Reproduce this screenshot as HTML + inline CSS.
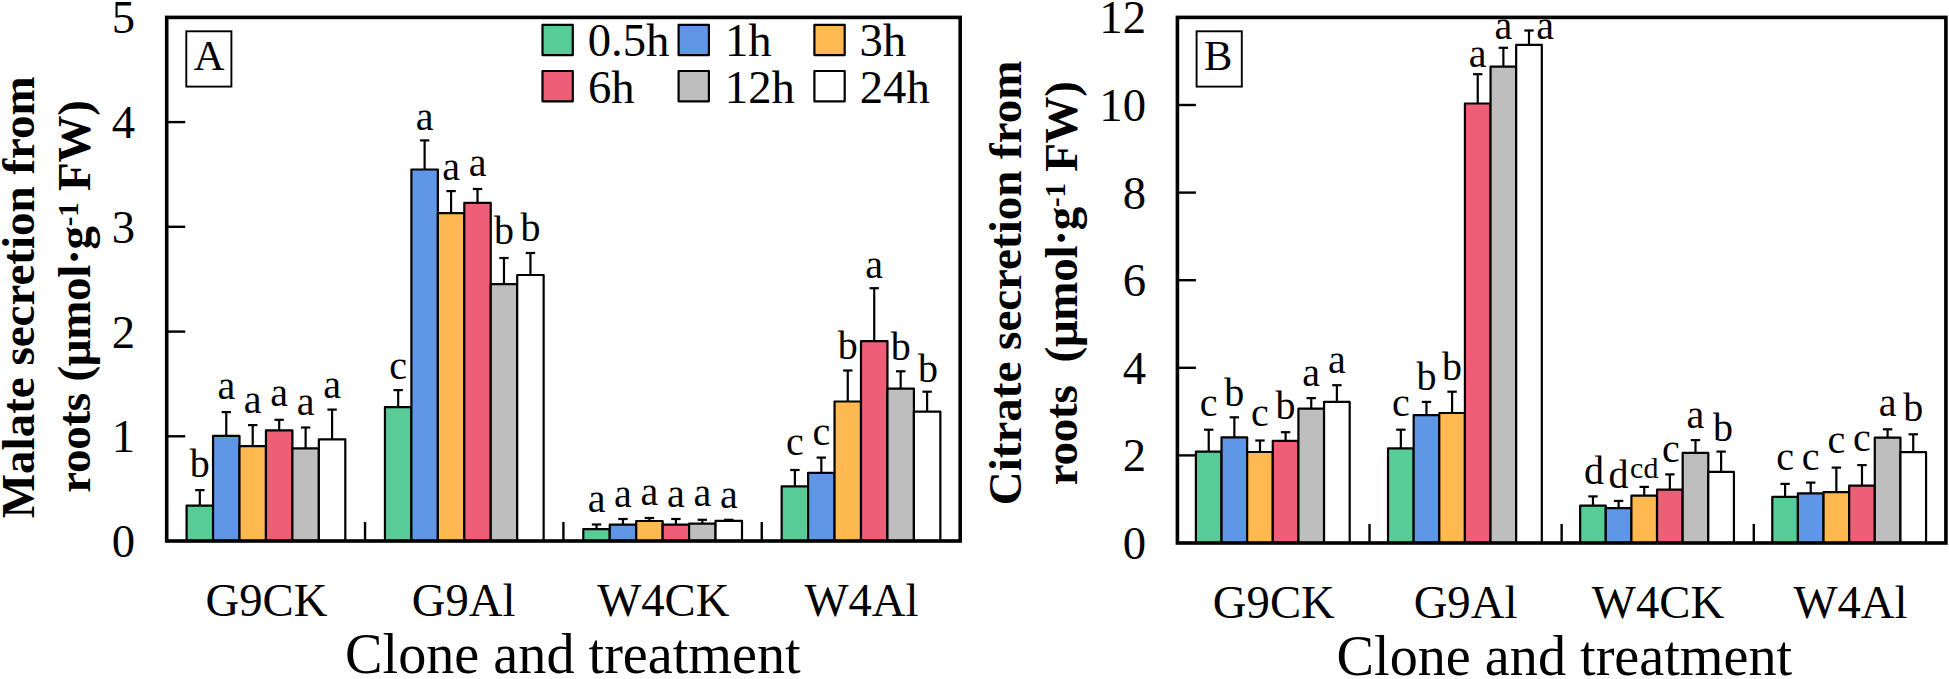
<!DOCTYPE html>
<html lang="en"><head><meta charset="utf-8"><title>Malate and citrate secretion from roots</title>
<style>
html,body{margin:0;padding:0;background:#fff}
body{width:1949px;height:679px;overflow:hidden}
svg{display:block}
text{font-family:"Liberation Serif", serif;fill:#000}
.b{stroke:#000;stroke-width:2.2;stroke-linejoin:round}
.e{stroke:#000;stroke-width:2.2}
.t{stroke:#000;stroke-width:2.4}
</style></head><body>
<svg width="1949" height="679" viewBox="0 0 1949 679">
<rect width="1949" height="679" fill="#fff"/>
<g id="chartA">
<line x1="199.82" y1="505.6" x2="199.82" y2="490.1" class="e"/>
<line x1="195.12" y1="490.1" x2="204.52" y2="490.1" class="e"/>
<rect x="186.6" y="505.6" width="26.45" height="35.4" fill="#58CC96" class="b"/>
<text x="199.82" y="477" font-size="40" text-anchor="middle">b</text>
<line x1="226.27" y1="435.9" x2="226.27" y2="412.1" class="e"/>
<line x1="221.57" y1="412.1" x2="230.97" y2="412.1" class="e"/>
<rect x="213.05" y="435.9" width="26.45" height="105.1" fill="#6096E6" class="b"/>
<text x="226.27" y="398.8" font-size="40" text-anchor="middle">a</text>
<line x1="252.72" y1="446.1" x2="252.72" y2="425.1" class="e"/>
<line x1="248.03" y1="425.1" x2="257.43" y2="425.1" class="e"/>
<rect x="239.5" y="446.1" width="26.45" height="94.9" fill="#FFB950" class="b"/>
<text x="252.72" y="413.3" font-size="40" text-anchor="middle">a</text>
<line x1="279.18" y1="430.3" x2="279.18" y2="419.8" class="e"/>
<line x1="274.48" y1="419.8" x2="283.88" y2="419.8" class="e"/>
<rect x="265.95" y="430.3" width="26.45" height="110.7" fill="#EE5F77" class="b"/>
<text x="279.18" y="405.9" font-size="40" text-anchor="middle">a</text>
<line x1="305.62" y1="448.3" x2="305.62" y2="427.5" class="e"/>
<line x1="300.93" y1="427.5" x2="310.32" y2="427.5" class="e"/>
<rect x="292.4" y="448.3" width="26.45" height="92.7" fill="#BEBEBE" class="b"/>
<text x="305.62" y="415.2" font-size="40" text-anchor="middle">a</text>
<line x1="332.08" y1="439.3" x2="332.08" y2="409.6" class="e"/>
<line x1="327.38" y1="409.6" x2="336.78" y2="409.6" class="e"/>
<rect x="318.85" y="439.3" width="26.45" height="101.7" fill="#FFFFFF" class="b"/>
<text x="332.08" y="397.8" font-size="40" text-anchor="middle">a</text>
<line x1="398.18" y1="407.1" x2="398.18" y2="390.1" class="e"/>
<line x1="393.48" y1="390.1" x2="402.88" y2="390.1" class="e"/>
<rect x="384.95" y="407.1" width="26.45" height="133.9" fill="#58CC96" class="b"/>
<text x="398.18" y="378.7" font-size="40" text-anchor="middle">c</text>
<line x1="424.62" y1="169.5" x2="424.62" y2="140.4" class="e"/>
<line x1="419.93" y1="140.4" x2="429.32" y2="140.4" class="e"/>
<rect x="411.4" y="169.5" width="26.45" height="371.5" fill="#6096E6" class="b"/>
<text x="424.62" y="129.6" font-size="40" text-anchor="middle">a</text>
<line x1="451.07" y1="213.1" x2="451.07" y2="191.1" class="e"/>
<line x1="446.38" y1="191.1" x2="455.77" y2="191.1" class="e"/>
<rect x="437.85" y="213.1" width="26.45" height="327.9" fill="#FFB950" class="b"/>
<text x="451.07" y="179.7" font-size="40" text-anchor="middle">a</text>
<line x1="477.52" y1="202.9" x2="477.52" y2="189" class="e"/>
<line x1="472.82" y1="189" x2="482.22" y2="189" class="e"/>
<rect x="464.3" y="202.9" width="26.45" height="338.1" fill="#EE5F77" class="b"/>
<text x="477.52" y="176" font-size="40" text-anchor="middle">a</text>
<line x1="503.98" y1="284.2" x2="503.98" y2="258" class="e"/>
<line x1="499.28" y1="258" x2="508.68" y2="258" class="e"/>
<rect x="490.75" y="284.2" width="26.45" height="256.8" fill="#BEBEBE" class="b"/>
<text x="503.98" y="243.7" font-size="40" text-anchor="middle">b</text>
<line x1="530.43" y1="275" x2="530.43" y2="253" class="e"/>
<line x1="525.73" y1="253" x2="535.13" y2="253" class="e"/>
<rect x="517.2" y="275" width="26.45" height="266" fill="#FFFFFF" class="b"/>
<text x="530.43" y="240.6" font-size="40" text-anchor="middle">b</text>
<line x1="596.52" y1="529.1" x2="596.52" y2="524.5" class="e"/>
<line x1="591.82" y1="524.5" x2="601.23" y2="524.5" class="e"/>
<rect x="583.3" y="529.1" width="26.45" height="11.9" fill="#58CC96" class="b"/>
<text x="596.52" y="511.6" font-size="40" text-anchor="middle">a</text>
<line x1="622.98" y1="524.7" x2="622.98" y2="519" class="e"/>
<line x1="618.27" y1="519" x2="627.68" y2="519" class="e"/>
<rect x="609.75" y="524.7" width="26.45" height="16.3" fill="#6096E6" class="b"/>
<text x="622.98" y="506.7" font-size="40" text-anchor="middle">a</text>
<line x1="649.42" y1="521" x2="649.42" y2="518" class="e"/>
<line x1="644.72" y1="518" x2="654.12" y2="518" class="e"/>
<rect x="636.2" y="521" width="26.45" height="20" fill="#FFB950" class="b"/>
<text x="649.42" y="504.5" font-size="40" text-anchor="middle">a</text>
<line x1="675.88" y1="524.7" x2="675.88" y2="519" class="e"/>
<line x1="671.17" y1="519" x2="680.58" y2="519" class="e"/>
<rect x="662.65" y="524.7" width="26.45" height="16.3" fill="#EE5F77" class="b"/>
<text x="675.88" y="506.7" font-size="40" text-anchor="middle">a</text>
<line x1="702.32" y1="523.7" x2="702.32" y2="519.8" class="e"/>
<line x1="697.62" y1="519.8" x2="707.02" y2="519.8" class="e"/>
<rect x="689.1" y="523.7" width="26.45" height="17.3" fill="#BEBEBE" class="b"/>
<text x="702.32" y="506.4" font-size="40" text-anchor="middle">a</text>
<line x1="728.77" y1="520.8" x2="728.77" y2="519.8" class="e"/>
<line x1="724.07" y1="519.8" x2="733.48" y2="519.8" class="e"/>
<rect x="715.55" y="520.8" width="26.45" height="20.2" fill="#FFFFFF" class="b"/>
<text x="728.77" y="507.7" font-size="40" text-anchor="middle">a</text>
<line x1="794.88" y1="486.4" x2="794.88" y2="470" class="e"/>
<line x1="790.17" y1="470" x2="799.58" y2="470" class="e"/>
<rect x="781.65" y="486.4" width="26.45" height="54.6" fill="#58CC96" class="b"/>
<text x="794.88" y="455" font-size="40" text-anchor="middle">c</text>
<line x1="821.33" y1="472.9" x2="821.33" y2="457.6" class="e"/>
<line x1="816.62" y1="457.6" x2="826.03" y2="457.6" class="e"/>
<rect x="808.1" y="472.9" width="26.45" height="68.1" fill="#6096E6" class="b"/>
<text x="821.33" y="444.7" font-size="40" text-anchor="middle">c</text>
<line x1="847.77" y1="401.5" x2="847.77" y2="370.5" class="e"/>
<line x1="843.07" y1="370.5" x2="852.48" y2="370.5" class="e"/>
<rect x="834.55" y="401.5" width="26.45" height="139.5" fill="#FFB950" class="b"/>
<text x="847.77" y="358.5" font-size="40" text-anchor="middle">b</text>
<line x1="874.23" y1="341.2" x2="874.23" y2="288.2" class="e"/>
<line x1="869.52" y1="288.2" x2="878.93" y2="288.2" class="e"/>
<rect x="861" y="341.2" width="26.45" height="199.8" fill="#EE5F77" class="b"/>
<text x="874.23" y="277.5" font-size="40" text-anchor="middle">a</text>
<line x1="900.67" y1="388.6" x2="900.67" y2="371.3" class="e"/>
<line x1="895.97" y1="371.3" x2="905.38" y2="371.3" class="e"/>
<rect x="887.45" y="388.6" width="26.45" height="152.4" fill="#BEBEBE" class="b"/>
<text x="900.67" y="359.7" font-size="40" text-anchor="middle">b</text>
<line x1="927.12" y1="411.6" x2="927.12" y2="391.7" class="e"/>
<line x1="922.42" y1="391.7" x2="931.83" y2="391.7" class="e"/>
<rect x="913.9" y="411.6" width="26.45" height="129.4" fill="#FFFFFF" class="b"/>
<text x="927.92" y="381.5" font-size="40" text-anchor="middle">b</text>
<text x="135" y="556.9" font-size="46.7" text-anchor="end">0</text>
<line x1="166.7" y1="436.3" x2="185.2" y2="436.3" class="t"/>
<text x="135" y="452.2" font-size="46.7" text-anchor="end">1</text>
<line x1="166.7" y1="331.6" x2="185.2" y2="331.6" class="t"/>
<text x="135" y="347.5" font-size="46.7" text-anchor="end">2</text>
<line x1="166.7" y1="226.8" x2="185.2" y2="226.8" class="t"/>
<text x="135" y="242.7" font-size="46.7" text-anchor="end">3</text>
<line x1="166.7" y1="122.1" x2="185.2" y2="122.1" class="t"/>
<text x="135" y="138" font-size="46.7" text-anchor="end">4</text>
<text x="135" y="33.3" font-size="46.7" text-anchor="end">5</text>
<line x1="365.05" y1="541" x2="365.05" y2="522" class="t"/>
<line x1="563.4" y1="541" x2="563.4" y2="522" class="t"/>
<line x1="761.75" y1="541" x2="761.75" y2="522" class="t"/>
<rect x="166.7" y="17.4" width="793.5" height="523.6" fill="none" stroke="#000" stroke-width="3.6"/>
<text x="266.5" y="615.8" font-size="46.7" text-anchor="middle">G9CK</text>
<text x="463.6" y="615.8" font-size="46.7" text-anchor="middle">G9Al</text>
<text x="663.3" y="615.8" font-size="46.7" text-anchor="middle">W4CK</text>
<text x="861.5" y="615.8" font-size="46.7" text-anchor="middle">W4Al</text>
<text x="572.9" y="672.9" font-size="56.2" text-anchor="middle">Clone and treatment</text>
<rect x="186.3" y="31.3" width="45.1" height="55.3" fill="#fff" stroke="#000" stroke-width="1.9"/>
<text x="209" y="70.3" font-size="42.5" text-anchor="middle">A</text>
<text transform="translate(33.6,297.3) rotate(-90)" font-size="47" font-weight="bold" text-anchor="middle">Malate secretion from</text>
<text transform="translate(89.7,296.6) rotate(-90)" font-size="47" font-weight="bold" letter-spacing="-0.25" text-anchor="middle" xml:space="preserve">roots (μmol·g<tspan font-size="29" dy="-11.7">-1</tspan><tspan dy="11.7"> FW)</tspan></text>
<rect x="542.5" y="24.8" width="30.3" height="30.3" fill="#58CC96" class="b"/>
<text x="587.7" y="56.3" font-size="46.7">0.5h</text>
<rect x="678.6" y="24.8" width="30.3" height="30.3" fill="#6096E6" class="b"/>
<text x="725" y="56.3" font-size="46.7">1h</text>
<rect x="814.4" y="24.8" width="30.3" height="30.3" fill="#FFB950" class="b"/>
<text x="859.5" y="56.3" font-size="46.7">3h</text>
<rect x="542.5" y="71" width="30.3" height="30.3" fill="#EE5F77" class="b"/>
<text x="588" y="102.5" font-size="46.7">6h</text>
<rect x="678.6" y="71" width="30.3" height="30.3" fill="#BEBEBE" class="b"/>
<text x="724.8" y="102.5" font-size="46.7">12h</text>
<rect x="814.4" y="71" width="30.3" height="30.3" fill="#FFFFFF" class="b"/>
<text x="859.7" y="102.5" font-size="46.7">24h</text>
</g>
<g id="chartB">
<line x1="1208.72" y1="451.7" x2="1208.72" y2="429.7" class="e"/>
<line x1="1204.02" y1="429.7" x2="1213.42" y2="429.7" class="e"/>
<rect x="1195.9" y="451.7" width="25.63" height="91.3" fill="#58CC96" class="b"/>
<text x="1208.72" y="416.4" font-size="40" text-anchor="middle">c</text>
<line x1="1234.35" y1="437.4" x2="1234.35" y2="417.3" class="e"/>
<line x1="1229.65" y1="417.3" x2="1239.05" y2="417.3" class="e"/>
<rect x="1221.53" y="437.4" width="25.63" height="105.6" fill="#6096E6" class="b"/>
<text x="1234.35" y="405.9" font-size="40" text-anchor="middle">b</text>
<line x1="1259.98" y1="452" x2="1259.98" y2="440.5" class="e"/>
<line x1="1255.28" y1="440.5" x2="1264.68" y2="440.5" class="e"/>
<rect x="1247.16" y="452" width="25.63" height="91" fill="#FFB950" class="b"/>
<text x="1259.98" y="425.7" font-size="40" text-anchor="middle">c</text>
<line x1="1285.61" y1="440.8" x2="1285.61" y2="432.2" class="e"/>
<line x1="1280.91" y1="432.2" x2="1290.31" y2="432.2" class="e"/>
<rect x="1272.79" y="440.8" width="25.63" height="102.2" fill="#EE5F77" class="b"/>
<text x="1285.61" y="418.9" font-size="40" text-anchor="middle">b</text>
<line x1="1311.24" y1="408.7" x2="1311.24" y2="398.1" class="e"/>
<line x1="1306.54" y1="398.1" x2="1315.94" y2="398.1" class="e"/>
<rect x="1298.42" y="408.7" width="25.63" height="134.3" fill="#BEBEBE" class="b"/>
<text x="1311.24" y="385.8" font-size="40" text-anchor="middle">a</text>
<line x1="1336.87" y1="401.9" x2="1336.87" y2="385.2" class="e"/>
<line x1="1332.17" y1="385.2" x2="1341.57" y2="385.2" class="e"/>
<rect x="1324.05" y="401.9" width="25.63" height="141.1" fill="#FFFFFF" class="b"/>
<text x="1336.87" y="372.5" font-size="40" text-anchor="middle">a</text>
<line x1="1400.84" y1="448.3" x2="1400.84" y2="429.7" class="e"/>
<line x1="1396.14" y1="429.7" x2="1405.54" y2="429.7" class="e"/>
<rect x="1388.03" y="448.3" width="25.63" height="94.7" fill="#58CC96" class="b"/>
<text x="1400.84" y="416.4" font-size="40" text-anchor="middle">c</text>
<line x1="1426.47" y1="415.2" x2="1426.47" y2="401.9" class="e"/>
<line x1="1421.77" y1="401.9" x2="1431.17" y2="401.9" class="e"/>
<rect x="1413.66" y="415.2" width="25.63" height="127.8" fill="#6096E6" class="b"/>
<text x="1426.47" y="389.5" font-size="40" text-anchor="middle">b</text>
<line x1="1452.1" y1="413" x2="1452.1" y2="391.7" class="e"/>
<line x1="1447.4" y1="391.7" x2="1456.8" y2="391.7" class="e"/>
<rect x="1439.29" y="413" width="25.63" height="130" fill="#FFB950" class="b"/>
<text x="1452.1" y="380.2" font-size="40" text-anchor="middle">b</text>
<line x1="1477.73" y1="103.5" x2="1477.73" y2="74.2" class="e"/>
<line x1="1473.03" y1="74.2" x2="1482.43" y2="74.2" class="e"/>
<rect x="1464.92" y="103.5" width="25.63" height="439.5" fill="#EE5F77" class="b"/>
<text x="1477.73" y="67.4" font-size="40" text-anchor="middle">a</text>
<line x1="1503.36" y1="66.6" x2="1503.36" y2="47.8" class="e"/>
<line x1="1498.66" y1="47.8" x2="1508.06" y2="47.8" class="e"/>
<rect x="1490.55" y="66.6" width="25.63" height="476.4" fill="#BEBEBE" class="b"/>
<text x="1503.36" y="39.2" font-size="40" text-anchor="middle">a</text>
<line x1="1528.99" y1="44.9" x2="1528.99" y2="30.5" class="e"/>
<line x1="1524.29" y1="30.5" x2="1533.69" y2="30.5" class="e"/>
<rect x="1516.18" y="44.9" width="25.63" height="498.1" fill="#FFFFFF" class="b"/>
<text x="1545.19" y="39.2" font-size="40" text-anchor="middle">a</text>
<line x1="1592.97" y1="505.7" x2="1592.97" y2="496.4" class="e"/>
<line x1="1588.27" y1="496.4" x2="1597.67" y2="496.4" class="e"/>
<rect x="1580.15" y="505.7" width="25.63" height="37.3" fill="#58CC96" class="b"/>
<text x="1593.97" y="483.9" font-size="40" text-anchor="middle">d</text>
<line x1="1618.6" y1="508.2" x2="1618.6" y2="500.9" class="e"/>
<line x1="1613.9" y1="500.9" x2="1623.3" y2="500.9" class="e"/>
<rect x="1605.78" y="508.2" width="25.63" height="34.8" fill="#6096E6" class="b"/>
<text x="1618.6" y="487.6" font-size="40" text-anchor="middle">d</text>
<line x1="1644.23" y1="495.6" x2="1644.23" y2="486.9" class="e"/>
<line x1="1639.53" y1="486.9" x2="1648.93" y2="486.9" class="e"/>
<rect x="1631.41" y="495.6" width="25.63" height="47.4" fill="#FFB950" class="b"/>
<text x="1644.23" y="477.6" font-size="30" text-anchor="middle">cd</text>
<line x1="1669.86" y1="489.6" x2="1669.86" y2="474.4" class="e"/>
<line x1="1665.16" y1="474.4" x2="1674.56" y2="474.4" class="e"/>
<rect x="1657.04" y="489.6" width="25.63" height="53.4" fill="#EE5F77" class="b"/>
<text x="1670.86" y="461.9" font-size="40" text-anchor="middle">c</text>
<line x1="1695.49" y1="452.8" x2="1695.49" y2="440.1" class="e"/>
<line x1="1690.79" y1="440.1" x2="1700.19" y2="440.1" class="e"/>
<rect x="1682.67" y="452.8" width="25.63" height="90.2" fill="#BEBEBE" class="b"/>
<text x="1695.49" y="427.6" font-size="40" text-anchor="middle">a</text>
<line x1="1721.12" y1="471.9" x2="1721.12" y2="451.6" class="e"/>
<line x1="1716.42" y1="451.6" x2="1725.82" y2="451.6" class="e"/>
<rect x="1708.3" y="471.9" width="25.63" height="71.1" fill="#FFFFFF" class="b"/>
<text x="1722.92" y="440.8" font-size="40" text-anchor="middle">b</text>
<line x1="1785.09" y1="496.9" x2="1785.09" y2="483.9" class="e"/>
<line x1="1780.39" y1="483.9" x2="1789.79" y2="483.9" class="e"/>
<rect x="1772.28" y="496.9" width="25.63" height="46.1" fill="#58CC96" class="b"/>
<text x="1785.09" y="469.6" font-size="40" text-anchor="middle">c</text>
<line x1="1810.72" y1="493.4" x2="1810.72" y2="482.6" class="e"/>
<line x1="1806.02" y1="482.6" x2="1815.42" y2="482.6" class="e"/>
<rect x="1797.91" y="493.4" width="25.63" height="49.6" fill="#6096E6" class="b"/>
<text x="1810.72" y="470.1" font-size="40" text-anchor="middle">c</text>
<line x1="1836.35" y1="492.1" x2="1836.35" y2="467.6" class="e"/>
<line x1="1831.65" y1="467.6" x2="1841.05" y2="467.6" class="e"/>
<rect x="1823.54" y="492.1" width="25.63" height="50.9" fill="#FFB950" class="b"/>
<text x="1836.35" y="453.3" font-size="40" text-anchor="middle">c</text>
<line x1="1861.98" y1="485.6" x2="1861.98" y2="465.1" class="e"/>
<line x1="1857.28" y1="465.1" x2="1866.68" y2="465.1" class="e"/>
<rect x="1849.17" y="485.6" width="25.63" height="57.4" fill="#EE5F77" class="b"/>
<text x="1861.98" y="450.8" font-size="40" text-anchor="middle">c</text>
<line x1="1887.61" y1="437.6" x2="1887.61" y2="429.3" class="e"/>
<line x1="1882.91" y1="429.3" x2="1892.31" y2="429.3" class="e"/>
<rect x="1874.8" y="437.6" width="25.63" height="105.4" fill="#BEBEBE" class="b"/>
<text x="1887.61" y="415.5" font-size="40" text-anchor="middle">a</text>
<line x1="1913.24" y1="452.1" x2="1913.24" y2="434.3" class="e"/>
<line x1="1908.54" y1="434.3" x2="1917.94" y2="434.3" class="e"/>
<rect x="1900.43" y="452.1" width="25.63" height="90.9" fill="#FFFFFF" class="b"/>
<text x="1913.24" y="421.3" font-size="40" text-anchor="middle">b</text>
<text x="1146" y="558.9" font-size="46.7" text-anchor="end">0</text>
<line x1="1177.4" y1="455.4" x2="1195.9" y2="455.4" class="t"/>
<text x="1146" y="471.3" font-size="46.7" text-anchor="end">2</text>
<line x1="1177.4" y1="367.8" x2="1195.9" y2="367.8" class="t"/>
<text x="1146" y="383.7" font-size="46.7" text-anchor="end">4</text>
<line x1="1177.4" y1="280.2" x2="1195.9" y2="280.2" class="t"/>
<text x="1146" y="296.1" font-size="46.7" text-anchor="end">6</text>
<line x1="1177.4" y1="192.6" x2="1195.9" y2="192.6" class="t"/>
<text x="1146" y="208.5" font-size="46.7" text-anchor="end">8</text>
<line x1="1177.4" y1="105" x2="1195.9" y2="105" class="t"/>
<text x="1146" y="120.9" font-size="46.7" text-anchor="end">10</text>
<text x="1146" y="33.3" font-size="46.7" text-anchor="end">12</text>
<line x1="1369.53" y1="543" x2="1369.53" y2="524" class="t"/>
<line x1="1561.65" y1="543" x2="1561.65" y2="524" class="t"/>
<line x1="1753.78" y1="543" x2="1753.78" y2="524" class="t"/>
<rect x="1177.4" y="17.4" width="768.5" height="525.6" fill="none" stroke="#000" stroke-width="3.6"/>
<text x="1273.8" y="617.9" font-size="46.7" text-anchor="middle">G9CK</text>
<text x="1465.5" y="617.9" font-size="46.7" text-anchor="middle">G9Al</text>
<text x="1658" y="617.9" font-size="46.7" text-anchor="middle">W4CK</text>
<text x="1850.5" y="617.9" font-size="46.7" text-anchor="middle">W4Al</text>
<text x="1564.4" y="674.5" font-size="56.2" text-anchor="middle">Clone and treatment</text>
<rect x="1196.6" y="31.3" width="45.2" height="55.3" fill="#fff" stroke="#000" stroke-width="1.9"/>
<text x="1218.3" y="69.9" font-size="42.5" text-anchor="middle">B</text>
<text transform="translate(1020.6,282.9) rotate(-90)" font-size="47" font-weight="bold" text-anchor="middle">Citrate secretion from</text>
<text transform="translate(1076.5,283.2) rotate(-90)" font-size="47" font-weight="bold" letter-spacing="-0.25" text-anchor="middle" xml:space="preserve">roots  (μmol·g<tspan font-size="29" dy="-11.7">-1</tspan><tspan dy="11.7"> FW)</tspan></text>
</g>
</svg>
</body></html>
